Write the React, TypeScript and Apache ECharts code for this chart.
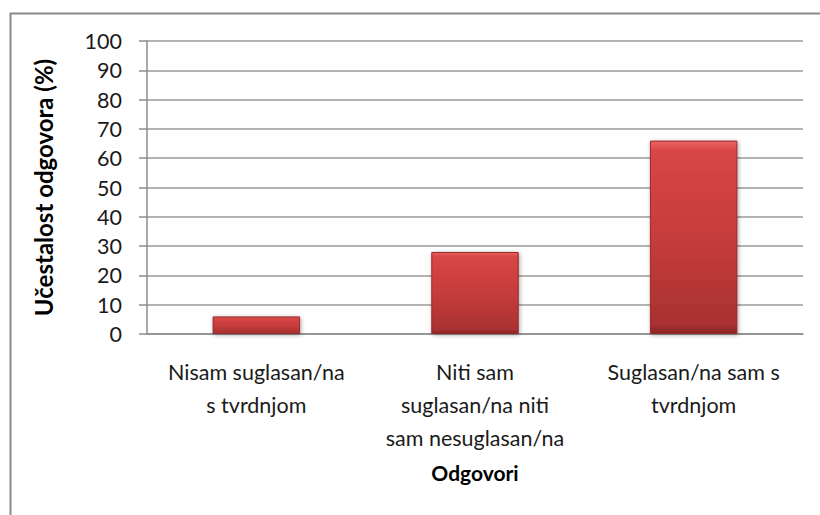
import React, { useEffect, useRef } from "react";
import * as echarts from "echarts";

const categories: string[] = [
  "Nisam suglasan/na\ns tvrdnjom",
  "Niti sam\nsuglasan/na niti\nsam nesuglasan/na",
  "Suglasan/na sam s\ntvrdnjom",
];
const values: number[] = [6, 28, 66];
const yAxisTitle = "Učestalost odgovora (%)";
const xAxisTitle = "Odgovori";

const FONT = "Lato, 'Open Sans', sans-serif";

export default function App() {
  const ref = useRef<HTMLDivElement>(null);
  useEffect(() => {
    if (!ref.current) return;
    const chart = echarts.init(ref.current, undefined, { renderer: "svg" });
    chart.setOption({
      animation: false,
      backgroundColor: "#ffffff",
      textStyle: { fontFamily: FONT },
      graphic: [
        {
          type: "rect",
          left: 8,
          top: 11,
          shape: { width: 900, height: 600 },
          style: { fill: "none", stroke: "#8a8a8a", lineWidth: 2 },
          silent: true,
          z: -1,
        },
      ],
      grid: { left: 147, right: 17, top: 41, bottom: 181, containLabel: false },
      xAxis: {
        type: "category",
        data: categories,
        name: xAxisTitle,
        nameLocation: "middle",
        nameGap: 128,
        nameTextStyle: { fontFamily: FONT, fontWeight: "bold", fontSize: 21, color: "#000" },
        axisLine: { lineStyle: { color: "#8c8c8c", width: 1.5 } },
        axisTick: { show: false },
        axisLabel: {
          interval: 0,
          margin: 21,
          fontSize: 21.5,
          lineHeight: 33,
          color: "#1a1a1a",
          fontFamily: FONT,
        },
      },
      yAxis: {
        type: "value",
        min: 0,
        max: 100,
        interval: 10,
        name: yAxisTitle,
        nameLocation: "middle",
        nameGap: 92,
        nameRotate: 90,
        nameTextStyle: { fontFamily: FONT, fontWeight: "bold", fontSize: 24, color: "#000" },
        axisLine: { show: true, lineStyle: { color: "#8c8c8c", width: 1.5 } },
        axisTick: { show: true, length: 8, lineStyle: { color: "#8c8c8c", width: 1.5 } },
        axisLabel: { margin: 25, fontSize: 21.5, color: "#1a1a1a", fontFamily: FONT },
        splitLine: { lineStyle: { color: "#9a9a9a", width: 1.5 } },
      },
      series: [
        {
          type: "bar",
          data: values,
          barWidth: "40%",
          itemStyle: {
            color: new echarts.graphic.LinearGradient(0, 0, 0, 1, [
              { offset: 0, color: "#ec6464" },
              { offset: 0.05, color: "#d84646" },
              { offset: 0.5, color: "#c73c3c" },
              { offset: 0.95, color: "#a93131" },
              { offset: 1, color: "#8a2525" },
            ]),
            borderColor: "#962a2a",
            borderWidth: 1,
            shadowColor: "rgba(0,0,0,0.35)",
            shadowBlur: 4,
            shadowOffsetX: 1,
            shadowOffsetY: 1,
          },
        },
      ],
    });
    return () => chart.dispose();
  }, []);
  return (
    <div
      ref={ref}
      style={{ position: "absolute", left: 0, top: 0, width: 820, height: 515 }}
    />
  );
}
